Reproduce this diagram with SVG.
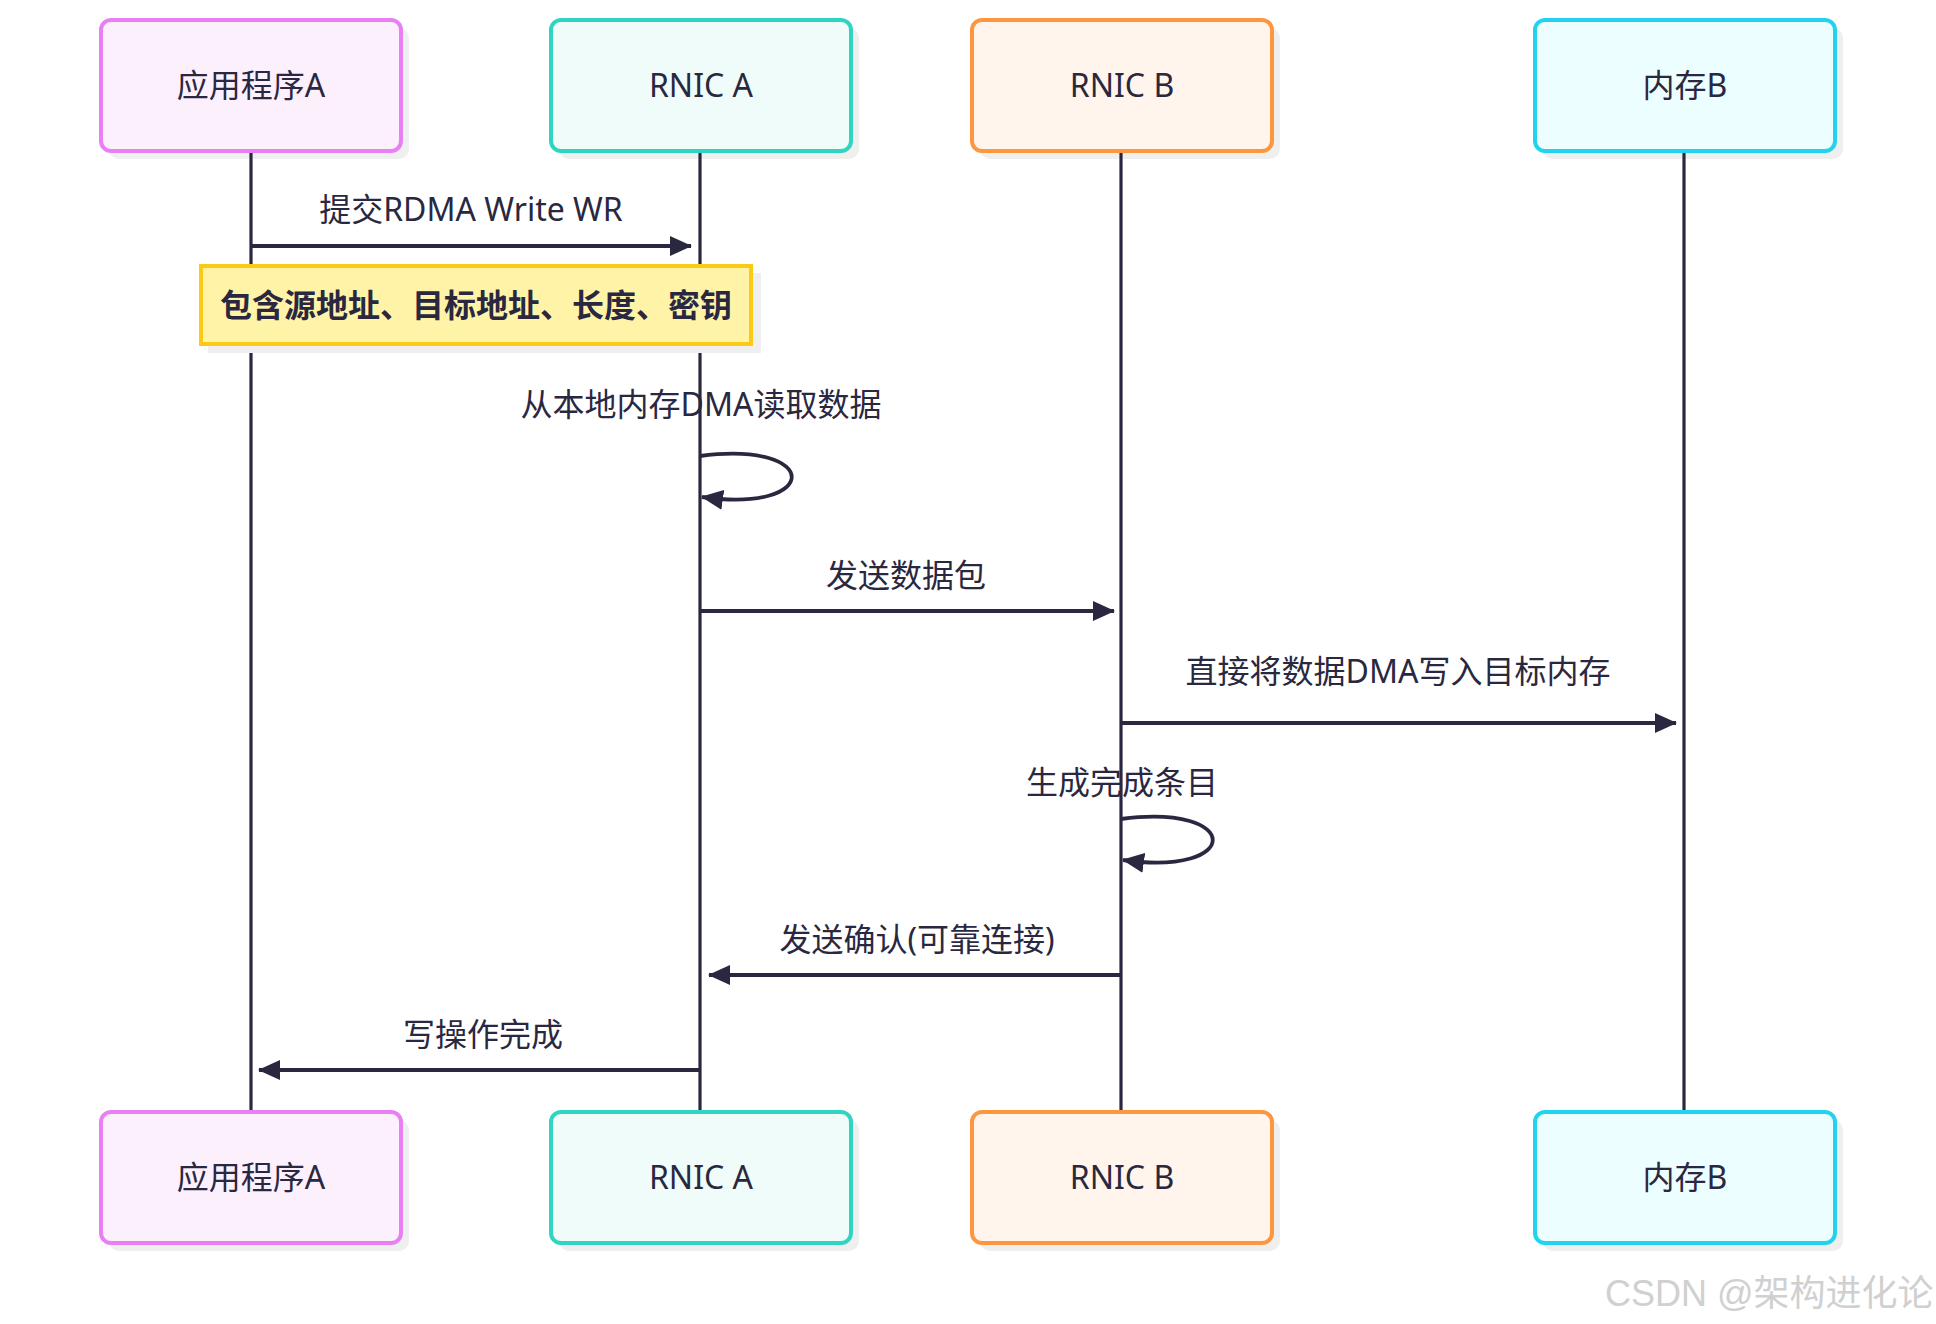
<svg xmlns="http://www.w3.org/2000/svg" width="1936" height="1324" viewBox="0 0 1936 1324">
<defs>
<marker id="ah" viewBox="0 0 22 20" refX="21" refY="10" markerWidth="22" markerHeight="20" markerUnits="userSpaceOnUse" orient="auto">
<path d="M0,0 L22,10 L0,20 Z" fill="#2a2840"/>
</marker>
<style>
text{font-family:"Noto Sans","Noto Sans CJK SC",sans-serif;fill:#2a2840;text-anchor:middle;dominant-baseline:central}
.actor{font-size:32px}
.msg{font-size:32px}
.note{font-size:32px;font-weight:bold}
.shadow{fill:#efefef}
.life{stroke:#2a2840;stroke-width:3.2;fill:none}
.arrow{stroke:#2a2840;stroke-width:3.8;fill:none;marker-end:url(#ah)}
.a1{fill:#fdf0fd;stroke:#e97ff5;stroke-width:4}
.a2{fill:#effcf9;stroke:#2fd5c0;stroke-width:4}
.a3{fill:#fff5ec;stroke:#fd963f;stroke-width:4}
.a4{fill:#ecfeff;stroke:#22d3ee;stroke-width:4}
.wm{font-family:"Liberation Sans","Noto Sans CJK SC",sans-serif;font-size:36px;fill:#d0d0d0;text-anchor:start;dominant-baseline:auto}
</style>
</defs>
<rect width="1936" height="1324" fill="#ffffff"/>

<g id="labels">
<text class="msg" x="471" y="208">提交RDMA Write WR</text>
<text class="msg" x="701" y="403">从本地内存DMA读取数据</text>
<text class="msg" x="906" y="574">发送数据包</text>
<text class="msg" x="1398" y="670">直接将数据DMA写入目标内存</text>
<text class="msg" x="1122" y="781">生成完成条目</text>
<text class="msg" x="917" y="938">发送确认(可靠连接)</text>
<text class="msg" x="483" y="1033">写操作完成</text>
</g>

<g id="actor-app-a-top">
<rect class="shadow" x="109" y="28" width="300" height="131" rx="10"/>
<rect class="a1" x="101" y="20" width="300" height="131" rx="10"/>
<text class="actor" x="251" y="84">应用程序A</text>
</g>
<g id="actor-rnic-a-top">
<rect class="shadow" x="559" y="28" width="300" height="131" rx="10"/>
<rect class="a2" x="551" y="20" width="300" height="131" rx="10"/>
<text class="actor" x="701" y="84">RNIC A</text>
</g>
<g id="actor-rnic-b-top">
<rect class="shadow" x="980" y="28" width="300" height="131" rx="10"/>
<rect class="a3" x="972" y="20" width="300" height="131" rx="10"/>
<text class="actor" x="1122" y="84">RNIC B</text>
</g>
<g id="actor-mem-b-top">
<rect class="shadow" x="1543" y="28" width="300" height="131" rx="10"/>
<rect class="a4" x="1535" y="20" width="300" height="131" rx="10"/>
<text class="actor" x="1685" y="84">内存B</text>
</g>

<g id="lifelines">
<line class="life" x1="251" y1="153" x2="251" y2="1110"/>
<line class="life" x1="700" y1="153" x2="700" y2="1110"/>
<line class="life" x1="1121" y1="153" x2="1121" y2="1110"/>
<line class="life" x1="1684" y1="153" x2="1684" y2="1110"/>
</g>

<g id="note">
<rect class="shadow" x="208" y="273" width="553" height="80"/>
<rect x="201" y="266" width="550" height="78" fill="#fff3a8" stroke="#fcc915" stroke-width="4"/>
<text class="note" x="476" y="304">包含源地址、目标地址、长度、密钥</text>
</g>

<g id="connectors">
<line class="arrow" x1="251" y1="246" x2="691" y2="246"/>
<path class="arrow" d="M700,456 C822,440 822,514 702,497"/>
<line class="arrow" x1="700" y1="611" x2="1114" y2="611"/>
<line class="arrow" x1="1121" y1="723" x2="1676" y2="723"/>
<path class="arrow" d="M1121,819 C1243,803 1243,877 1123,860"/>
<line class="arrow" x1="1121" y1="975" x2="709" y2="975"/>
<line class="arrow" x1="700" y1="1070" x2="259" y2="1070"/>
</g>

<g id="actor-app-a-bottom">
<rect class="shadow" x="109" y="1120" width="300" height="131" rx="10"/>
<rect class="a1" x="101" y="1112" width="300" height="131" rx="10"/>
<text class="actor" x="251" y="1176">应用程序A</text>
</g>
<g id="actor-rnic-a-bottom">
<rect class="shadow" x="559" y="1120" width="300" height="131" rx="10"/>
<rect class="a2" x="551" y="1112" width="300" height="131" rx="10"/>
<text class="actor" x="701" y="1176">RNIC A</text>
</g>
<g id="actor-rnic-b-bottom">
<rect class="shadow" x="980" y="1120" width="300" height="131" rx="10"/>
<rect class="a3" x="972" y="1112" width="300" height="131" rx="10"/>
<text class="actor" x="1122" y="1176">RNIC B</text>
</g>
<g id="actor-mem-b-bottom">
<rect class="shadow" x="1543" y="1120" width="300" height="131" rx="10"/>
<rect class="a4" x="1535" y="1112" width="300" height="131" rx="10"/>
<text class="actor" x="1685" y="1176">内存B</text>
</g>

<text class="wm" x="1605" y="1306">CSDN @架构进化论</text>
</svg>
